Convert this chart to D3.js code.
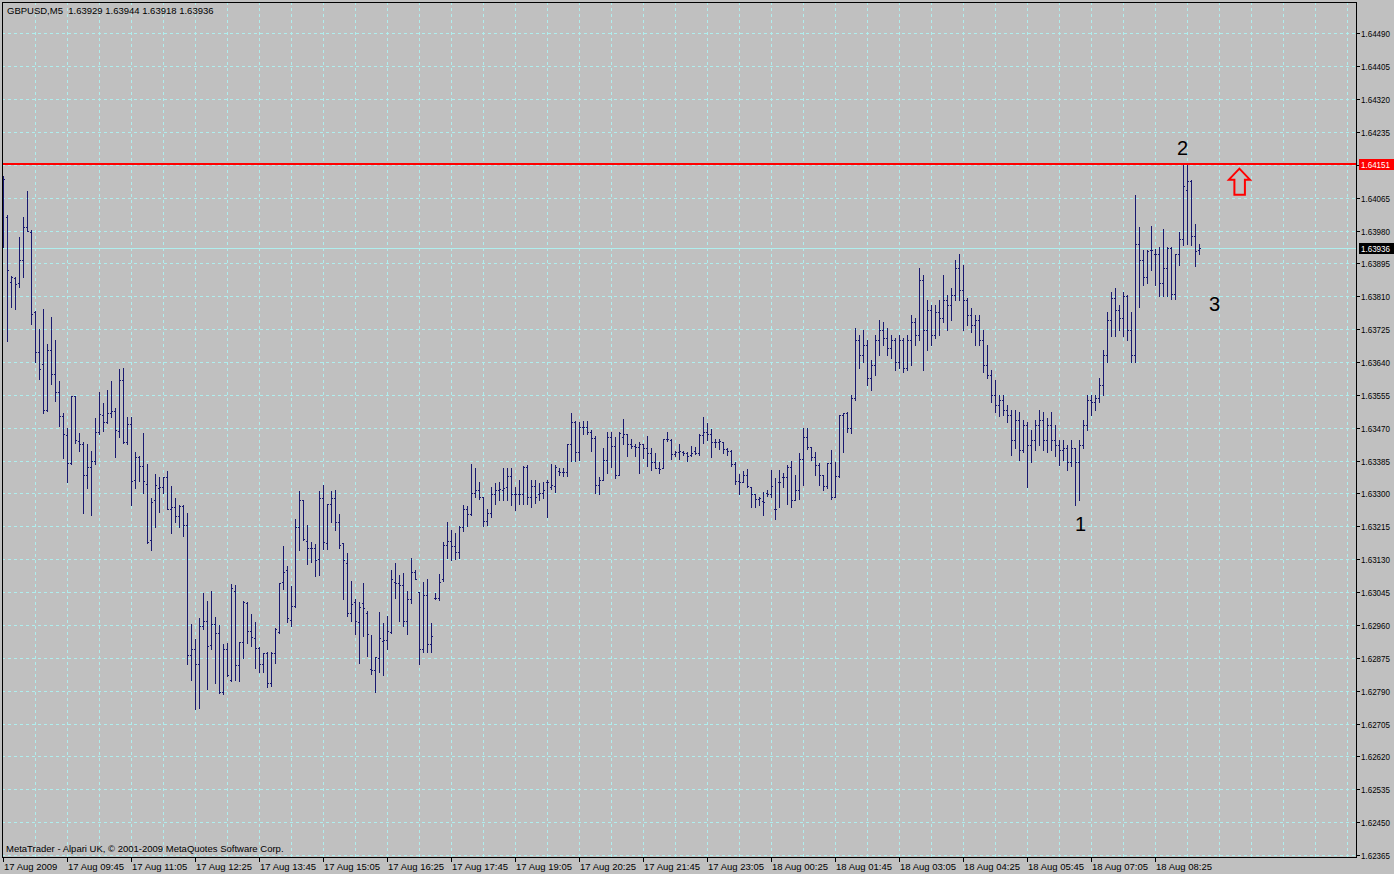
<!DOCTYPE html>
<html><head><meta charset="utf-8">
<script src="https://cdn.jsdelivr.net/npm/d3@7/dist/d3.min.js"></script>
<style>
html,body{margin:0;padding:0;background:#C0C0C0;overflow:hidden;}
svg{display:block;}
text{font-family:"Liberation Sans",Arial,sans-serif;white-space:pre;}
</style></head><body>
<svg id="chart" width="1394" height="874"></svg>
<script>
const symbol = "GBPUSD,M5";
const opens = [
1.64020,1.64014,1.63846,1.63856,1.63843,1.63905,1.63989,1.63976,1.63768,1.63666,
1.63634,1.63517,1.63671,1.63608,1.63563,1.63500,1.63451,1.63379,1.63552,1.63435,
1.63429,1.63349,1.63369,1.63384,1.63459,1.63503,1.63485,1.63509,1.63513,1.63462,
1.63593,1.63433,1.63479,1.63335,1.63393,1.63371,1.63324,1.63179,1.63283,1.63315,
1.63317,1.63342,1.63261,1.63264,1.63241,1.63268,1.63218,1.62882,1.62898,1.62858,
1.62957,1.62971,1.62908,1.62962,1.62938,1.62786,1.62898,1.62818,1.63048,1.62856,
1.62917,1.63016,1.62944,1.62925,1.62901,1.62858,1.62887,1.62811,1.62887,1.62941,
1.63072,1.63102,1.62973,1.63009,1.63214,1.63283,1.63178,1.63158,1.63158,1.63130,
1.63287,1.63172,1.63274,1.63289,1.63225,1.63172,1.63121,1.62992,1.63020,1.62968,
1.63017,1.62990,1.62845,1.62843,1.62875,1.62918,1.62921,1.62942,1.63070,1.63068,
1.63063,1.62970,1.63026,1.63098,1.63044,1.62898,1.63037,1.62911,1.63030,1.63030,
1.63080,1.63167,1.63177,1.63165,1.63149,1.63214,1.63259,1.63248,1.63300,1.63309,
1.63291,1.63229,1.63250,1.63298,1.63309,1.63310,1.63316,1.63345,1.63298,1.63298,
1.63298,1.63369,1.63291,1.63319,1.63298,1.63302,1.63330,1.63316,1.63319,1.63358,
1.63356,1.63356,1.63427,1.63485,1.63406,1.63472,1.63472,1.63458,1.63444,1.63323,
1.63336,1.63386,1.63446,1.63422,1.63348,1.63446,1.63453,1.63427,1.63423,1.63421,
1.63429,1.63418,1.63404,1.63382,1.63367,1.63365,1.63442,1.63438,1.63401,1.63408,
1.63406,1.63404,1.63399,1.63410,1.63404,1.63451,1.63458,1.63455,1.63432,1.63434,
1.63434,1.63416,1.63410,1.63375,1.63332,1.63330,1.63349,1.63317,1.63298,1.63285,
1.63280,1.63302,1.63298,1.63261,1.63330,1.63342,1.63343,1.63369,1.63283,1.63309,
1.63388,1.63446,1.63419,1.63393,1.63373,1.63348,1.63319,1.63378,1.63291,1.63345,
1.63503,1.63507,1.63469,1.63547,1.63696,1.63658,1.63684,1.63598,1.63632,1.63696,
1.63722,1.63702,1.63676,1.63696,1.63640,1.63696,1.63624,1.63696,1.63743,1.63709,
1.63852,1.63722,1.63774,1.63709,1.63769,1.63753,1.63800,1.63787,1.63813,1.63883,
1.63826,1.63800,1.63761,1.63735,1.63748,1.63696,1.63632,1.63606,1.63554,1.63528,
1.63541,1.63515,1.63503,1.63438,1.63490,1.63412,1.63477,1.63425,1.63438,1.63477,
1.63490,1.63438,1.63477,1.63438,1.63425,1.63412,1.63417,1.63381,1.63417,1.63381,
1.63425,1.63477,1.63541,1.63536,1.63547,1.63580,1.63658,1.63748,1.63805,1.63774,
1.63753,1.63810,1.63722,1.63658,1.63944,1.63903,1.63860,1.63929,1.63919,1.63918,
1.63843,1.63882,1.63936,1.63815,1.63918,1.63957,1.64084,1.64107,1.63966,1.63929];
const highs = [
1.64120,1.64020,1.63862,1.63860,1.63963,1.64015,1.64082,1.63981,1.63771,1.63725,
1.63777,1.63686,1.63756,1.63696,1.63590,1.63507,1.63468,1.63552,1.63552,1.63457,
1.63432,1.63427,1.63410,1.63495,1.63562,1.63534,1.63567,1.63590,1.63521,1.63621,
1.63624,1.63497,1.63497,1.63408,1.63397,1.63457,1.63375,1.63289,1.63350,1.63342,
1.63342,1.63358,1.63319,1.63289,1.63270,1.63270,1.63250,1.62962,1.62924,1.62979,
1.63043,1.63022,1.63048,1.62981,1.62960,1.62910,1.62912,1.63066,1.63063,1.62917,
1.63023,1.63018,1.62988,1.62967,1.62902,1.62888,1.62891,1.62891,1.62951,1.63068,
1.63164,1.63112,1.63061,1.63233,1.63306,1.63283,1.63218,1.63174,1.63169,1.63306,
1.63322,1.63274,1.63306,1.63309,1.63248,1.63172,1.63147,1.63073,1.63026,1.63020,
1.63068,1.62996,1.62934,1.62878,1.62993,1.62964,1.62984,1.63102,1.63119,1.63089,
1.63093,1.63048,1.63132,1.63102,1.63044,1.63070,1.63080,1.62964,1.63043,1.63091,
1.63175,1.63227,1.63205,1.63197,1.63216,1.63270,1.63267,1.63375,1.63367,1.63330,
1.63291,1.63259,1.63316,1.63326,1.63330,1.63365,1.63367,1.63365,1.63316,1.63336,
1.63371,1.63373,1.63335,1.63336,1.63326,1.63330,1.63335,1.63375,1.63373,1.63365,
1.63365,1.63429,1.63507,1.63487,1.63485,1.63487,1.63487,1.63464,1.63448,1.63343,
1.63418,1.63458,1.63458,1.63446,1.63458,1.63492,1.63453,1.63440,1.63429,1.63434,
1.63429,1.63448,1.63417,1.63405,1.63382,1.63441,1.63458,1.63441,1.63410,1.63427,
1.63410,1.63406,1.63423,1.63419,1.63453,1.63498,1.63481,1.63466,1.63440,1.63440,
1.63434,1.63418,1.63412,1.63382,1.63350,1.63358,1.63362,1.63317,1.63298,1.63291,
1.63304,1.63309,1.63360,1.63339,1.63360,1.63352,1.63373,1.63384,1.63348,1.63405,
1.63468,1.63468,1.63419,1.63406,1.63379,1.63348,1.63379,1.63412,1.63382,1.63504,
1.63509,1.63511,1.63554,1.63727,1.63709,1.63722,1.63696,1.63645,1.63709,1.63748,
1.63743,1.63727,1.63709,1.63702,1.63709,1.63702,1.63709,1.63761,1.63753,1.63883,
1.63864,1.63800,1.63787,1.63787,1.63800,1.63864,1.63813,1.63831,1.63903,1.63919,
1.63890,1.63805,1.63779,1.63761,1.63761,1.63722,1.63684,1.63619,1.63593,1.63554,
1.63554,1.63528,1.63515,1.63515,1.63510,1.63490,1.63484,1.63464,1.63490,1.63515,
1.63510,1.63495,1.63510,1.63477,1.63438,1.63438,1.63425,1.63438,1.63417,1.63438,
1.63490,1.63554,1.63554,1.63554,1.63598,1.63671,1.63769,1.63821,1.63831,1.63787,
1.63821,1.63813,1.63769,1.64071,1.63989,1.63929,1.63929,1.63991,1.63933,1.63938,
1.63983,1.63938,1.63938,1.63918,1.63976,1.64149,1.64151,1.64110,1.63996,1.63944];
const lows = [
1.63938,1.63695,1.63783,1.63777,1.63833,1.63859,1.63979,1.63738,1.63640,1.63595,
1.63507,1.63514,1.63583,1.63540,1.63475,1.63392,1.63330,1.63376,1.63431,1.63410,
1.63250,1.63313,1.63245,1.63375,1.63453,1.63462,1.63481,1.63497,1.63395,1.63446,
1.63431,1.63429,1.63271,1.63313,1.63333,1.63300,1.63171,1.63155,1.63214,1.63253,
1.63300,1.63260,1.63198,1.63227,1.63214,1.63191,1.62858,1.62818,1.62743,1.62746,
1.62949,1.62794,1.62898,1.62809,1.62783,1.62781,1.62829,1.62816,1.62818,1.62815,
1.62875,1.62914,1.62906,1.62849,1.62839,1.62837,1.62800,1.62802,1.62861,1.62938,
1.63053,1.62968,1.62957,1.63007,1.63155,1.63179,1.63117,1.63122,1.63087,1.63089,
1.63156,1.63156,1.63225,1.63205,1.63158,1.63027,1.62984,1.62971,1.62936,1.62861,
1.62932,1.62880,1.62832,1.62787,1.62839,1.62830,1.62899,1.62940,1.63029,1.62971,
1.62957,1.62936,1.63016,1.63080,1.62858,1.62891,1.62891,1.62891,1.63028,1.63024,
1.63073,1.63132,1.63128,1.63130,1.63134,1.63203,1.63216,1.63245,1.63291,1.63285,
1.63216,1.63218,1.63240,1.63274,1.63283,1.63283,1.63283,1.63270,1.63257,1.63274,
1.63274,1.63274,1.63266,1.63276,1.63283,1.63287,1.63238,1.63311,1.63304,1.63348,
1.63345,1.63345,1.63384,1.63384,1.63386,1.63455,1.63455,1.63410,1.63300,1.63298,
1.63335,1.63352,1.63369,1.63339,1.63348,1.63429,1.63397,1.63418,1.63397,1.63353,
1.63391,1.63371,1.63361,1.63365,1.63352,1.63365,1.63436,1.63388,1.63397,1.63388,
1.63399,1.63384,1.63397,1.63401,1.63399,1.63431,1.63438,1.63395,1.63421,1.63416,
1.63404,1.63399,1.63371,1.63324,1.63298,1.63330,1.63316,1.63266,1.63266,1.63270,
1.63244,1.63293,1.63291,1.63235,1.63266,1.63316,1.63274,1.63266,1.63283,1.63285,
1.63323,1.63414,1.63386,1.63348,1.63321,1.63309,1.63313,1.63286,1.63291,1.63343,
1.63408,1.63459,1.63456,1.63541,1.63624,1.63640,1.63580,1.63567,1.63606,1.63658,
1.63684,1.63658,1.63650,1.63619,1.63624,1.63614,1.63619,1.63632,1.63684,1.63696,
1.63619,1.63671,1.63684,1.63702,1.63709,1.63743,1.63722,1.63748,1.63800,1.63800,
1.63722,1.63735,1.63717,1.63684,1.63684,1.63614,1.63598,1.63536,1.63510,1.63500,
1.63503,1.63484,1.63399,1.63417,1.63386,1.63407,1.63316,1.63381,1.63412,1.63425,
1.63412,1.63407,1.63412,1.63397,1.63373,1.63386,1.63360,1.63371,1.63270,1.63283,
1.63417,1.63464,1.63503,1.63515,1.63536,1.63554,1.63640,1.63707,1.63707,1.63722,
1.63707,1.63696,1.63640,1.63640,1.63781,1.63839,1.63843,1.63877,1.63840,1.63811,
1.63811,1.63811,1.63802,1.63804,1.63890,1.63942,1.63944,1.63942,1.63888,1.63918];
const closes = [
1.64114,1.63879,1.63859,1.63841,1.63905,1.63989,1.63979,1.63763,1.63666,1.63621,
1.63517,1.63672,1.63608,1.63563,1.63500,1.63455,1.63379,1.63552,1.63438,1.63429,
1.63349,1.63369,1.63384,1.63459,1.63505,1.63485,1.63509,1.63513,1.63464,1.63593,
1.63433,1.63479,1.63332,1.63393,1.63371,1.63332,1.63175,1.63277,1.63323,1.63317,
1.63342,1.63261,1.63264,1.63241,1.63268,1.63218,1.62882,1.62898,1.62858,1.62957,
1.62971,1.62906,1.62962,1.62938,1.62786,1.62898,1.62830,1.63055,1.62856,1.62917,
1.63018,1.62944,1.62929,1.62901,1.62858,1.62887,1.62809,1.62887,1.62949,1.63068,
1.63096,1.62977,1.63009,1.63214,1.63283,1.63181,1.63160,1.63158,1.63128,1.63287,
1.63175,1.63274,1.63289,1.63225,1.63167,1.63128,1.62992,1.63013,1.62971,1.63007,
1.63004,1.62936,1.62843,1.62876,1.62925,1.62921,1.62944,1.63079,1.63068,1.63063,
1.62970,1.63026,1.63098,1.63080,1.62898,1.63037,1.62911,1.62931,1.63030,1.63072,
1.63167,1.63177,1.63165,1.63149,1.63214,1.63259,1.63246,1.63300,1.63309,1.63291,
1.63229,1.63250,1.63298,1.63309,1.63311,1.63313,1.63345,1.63298,1.63298,1.63298,
1.63369,1.63291,1.63319,1.63291,1.63302,1.63309,1.63330,1.63321,1.63369,1.63356,
1.63356,1.63427,1.63485,1.63406,1.63472,1.63472,1.63459,1.63444,1.63323,1.63336,
1.63386,1.63446,1.63422,1.63348,1.63457,1.63453,1.63427,1.63423,1.63421,1.63429,
1.63418,1.63404,1.63382,1.63367,1.63363,1.63440,1.63441,1.63401,1.63408,1.63410,
1.63404,1.63397,1.63405,1.63405,1.63451,1.63458,1.63455,1.63432,1.63434,1.63435,
1.63416,1.63410,1.63375,1.63332,1.63330,1.63349,1.63319,1.63298,1.63285,1.63287,
1.63279,1.63298,1.63319,1.63259,1.63330,1.63342,1.63369,1.63283,1.63309,1.63388,
1.63446,1.63419,1.63393,1.63373,1.63348,1.63319,1.63378,1.63291,1.63345,1.63503,
1.63507,1.63468,1.63547,1.63696,1.63658,1.63684,1.63598,1.63632,1.63696,1.63722,
1.63702,1.63676,1.63696,1.63640,1.63696,1.63624,1.63696,1.63743,1.63709,1.63852,
1.63722,1.63774,1.63709,1.63769,1.63753,1.63800,1.63787,1.63813,1.63883,1.63826,
1.63800,1.63761,1.63735,1.63748,1.63696,1.63632,1.63606,1.63554,1.63528,1.63541,
1.63515,1.63503,1.63438,1.63490,1.63412,1.63477,1.63425,1.63438,1.63477,1.63490,
1.63438,1.63477,1.63438,1.63425,1.63412,1.63417,1.63381,1.63417,1.63381,1.63425,
1.63477,1.63541,1.63536,1.63547,1.63580,1.63658,1.63748,1.63805,1.63774,1.63753,
1.63810,1.63722,1.63658,1.63945,1.63903,1.63860,1.63927,1.63929,1.63918,1.63843,
1.63882,1.63936,1.63815,1.63918,1.63957,1.64094,1.64107,1.63966,1.63926,1.63936];
const timeLabels = ["17 Aug 2009","17 Aug 09:45","17 Aug 11:05","17 Aug 12:25","17 Aug 13:45",
"17 Aug 15:05","17 Aug 16:25","17 Aug 17:45","17 Aug 19:05","17 Aug 20:25","17 Aug 21:45",
"17 Aug 23:05","18 Aug 00:25","18 Aug 01:45","18 Aug 03:05","18 Aug 04:25","18 Aug 05:45",
"18 Aug 07:05","18 Aug 08:25"];
const priceTicks = [1.64490,1.64405,1.64320,1.64235,1.64150,1.64065,1.63980,1.63895,1.63810,
1.63725,1.63640,1.63555,1.63470,1.63385,1.63300,1.63215,1.63130,1.63045,1.62960,1.62875,
1.62790,1.62705,1.62620,1.62535,1.62450,1.62365];
const levelPrice = 1.64151;
const bidPrice = 1.63936;
const annotations = [
  {text:"1", bar:268, price:1.63203},
  {text:"2", bar:293.5, price:1.64175},
  {text:"3", bar:301.5, price:1.63771}
];
const arrowMark = {bar:309.1, price:1.64140};
const copyright = "MetaTrader - Alpari UK, \u00A9 2001-2009 MetaQuotes Software Corp.";

// ---------- layout ----------
const W = 1394, H = 874;
const plot = {left:2, top:2, right:1356, bottom:857};
const svg = d3.select("#chart");
const fontFamily = '"Liberation Sans", Arial, sans-serif';
const gridColor = "#AFEEEE";
const barColor = "#191970";
const axisFont = 9.3;

const n = opens.length;
const x = d3.scaleLinear().domain([0, n - 1]).range([3, 3 + 4 * (n - 1)]);
const y = d3.scaleLinear().domain([1.62365, 1.64490]).range([855, 33.3]);

svg.append("rect").attr("x",0).attr("y",0).attr("width",W).attr("height",H).attr("fill","#C0C0C0");

svg.append("defs").append("clipPath").attr("id","plotclip")
  .append("rect").attr("x",plot.left+1).attr("y",plot.top+1)
  .attr("width",plot.right-plot.left-1).attr("height",plot.bottom-plot.top-1);

const g = svg.append("g").attr("clip-path","url(#plotclip)");

// vertical grid (every 8 bars, continuing into empty right area)
const vIdx = d3.range(8, 345, 8).filter(i => x(i) < plot.right - 2);
g.append("g").selectAll("line").data(vIdx).join("line")
  .attr("x1", d => Math.round(x(d)) + 0.5).attr("x2", d => Math.round(x(d)) + 0.5)
  .attr("y1", plot.top).attr("y2", plot.bottom)
  .attr("stroke", gridColor).attr("stroke-width",1).attr("stroke-dasharray","3,3")
  .attr("shape-rendering","crispEdges");

// horizontal grid
g.append("g").selectAll("line").data(priceTicks).join("line")
  .attr("x1", plot.left).attr("x2", plot.right)
  .attr("y1", d => Math.round(y(d)) + 0.5).attr("y2", d => Math.round(y(d)) + 0.5)
  .attr("stroke", gridColor).attr("stroke-width",1).attr("stroke-dasharray","3,3")
  .attr("shape-rendering","crispEdges");

// bid line
g.append("line").attr("x1",plot.left).attr("x2",plot.right)
  .attr("y1", Math.round(y(bidPrice))+0.5).attr("y2", Math.round(y(bidPrice))+0.5)
  .attr("stroke", gridColor).attr("stroke-width",1).attr("shape-rendering","crispEdges");

// OHLC bars
const bars = d3.range(n).map(i => ({i, o:opens[i], h:highs[i], l:lows[i], c:closes[i]}));
const bg = g.append("g").attr("fill", barColor).attr("shape-rendering","crispEdges");
bg.selectAll("rect.hl").data(bars).join("rect").attr("class","hl")
  .attr("x", d => Math.round(x(d.i)))
  .attr("y", d => Math.round(y(d.h)))
  .attr("width", 1)
  .attr("height", d => Math.max(1, Math.round(y(d.l)) - Math.round(y(d.h)) + 1));
bg.selectAll("rect.op").data(bars).join("rect").attr("class","op")
  .attr("x", d => Math.round(x(d.i)) - 1).attr("y", d => Math.round(y(d.o)))
  .attr("width", 1).attr("height", 1);
bg.selectAll("rect.cl").data(bars).join("rect").attr("class","cl")
  .attr("x", d => Math.round(x(d.i)) + 1).attr("y", d => Math.round(y(d.c)))
  .attr("width", 1).attr("height", 1);

// red level line
g.append("line").attr("x1",plot.left).attr("x2",plot.right)
  .attr("y1", Math.round(y(levelPrice))).attr("y2", Math.round(y(levelPrice)))
  .attr("stroke","#FF0000").attr("stroke-width",2).attr("shape-rendering","crispEdges");

// annotations
g.append("g").selectAll("text").data(annotations).join("text")
  .attr("x", d => x(d.bar)).attr("y", d => y(d.price))
  .attr("font-size", 20).attr("fill","#000").attr("font-family", fontFamily)
  .text(d => d.text);

// arrow (outlined up arrow)
const ax = x(arrowMark.bar), ay = y(arrowMark.price);
const arrowPts = [[0,0],[10.5,11],[5.5,11],[5.5,26],[-5,26],[-5,11],[-10.5,11]];
g.append("path")
  .attr("d", "M" + arrowPts.map(p => [ax+p[0], ay+p[1]].join(",")).join("L") + "Z")
  .attr("fill","none").attr("stroke","#FF0000").attr("stroke-width",2);

// frame
svg.append("rect").attr("x",plot.left+0.5).attr("y",plot.top+0.5)
  .attr("width",plot.right-plot.left).attr("height",plot.bottom-plot.top)
  .attr("fill","none").attr("stroke","#000").attr("stroke-width",1)
  .attr("shape-rendering","crispEdges");

// right price axis
const ya = svg.append("g");
ya.selectAll("line").data(priceTicks).join("line")
  .attr("x1", plot.right+1).attr("x2", plot.right+4)
  .attr("y1", d => Math.round(y(d))+0.5).attr("y2", d => Math.round(y(d))+0.5)
  .attr("stroke","#000").attr("shape-rendering","crispEdges");
ya.selectAll("text").data(priceTicks).join("text")
  .attr("x", plot.right+5).attr("y", d => Math.round(y(d)) + 4)
  .attr("font-size", axisFont).attr("font-family", fontFamily).attr("fill","#000")
  .attr("textLength", 29).attr("lengthAdjust","spacingAndGlyphs")
  .text(d => d.toFixed(5));

function priceBox(price, fill) {
  const yy = Math.round(y(price));
  svg.append("rect").attr("x", plot.right+3).attr("y", yy-5).attr("width", W-plot.right-3).attr("height", 11)
    .attr("fill", fill).attr("shape-rendering","crispEdges");
  svg.append("text").attr("x", plot.right+5).attr("y", yy+4)
    .attr("font-size", axisFont).attr("font-family", fontFamily).attr("fill","#FFFFFF")
    .attr("textLength", 29).attr("lengthAdjust","spacingAndGlyphs")
    .text(price.toFixed(5));
}
priceBox(levelPrice, "#FF0000");
priceBox(bidPrice, "#000000");

// bottom time axis
const tIdx = timeLabels.map((t, k) => ({t, i: k * 16}));
const xa = svg.append("g");
xa.selectAll("line").data(tIdx).join("line")
  .attr("x1", d => Math.round(x(d.i))+0.5).attr("x2", d => Math.round(x(d.i))+0.5)
  .attr("y1", plot.bottom).attr("y2", plot.bottom+5)
  .attr("stroke","#000").attr("shape-rendering","crispEdges");
xa.selectAll("text").data(tIdx).join("text")
  .attr("x", d => Math.round(x(d.i)) + 1).attr("y", plot.bottom + 13)
  .attr("font-size", 9.5).attr("font-family", fontFamily).attr("fill","#000")
  .text(d => d.t);

// title
const last = n - 1;
svg.append("text").attr("x", 7).attr("y", 14)
  .attr("font-size", 9.5).attr("font-family", fontFamily).attr("fill","#000")
  .text(symbol + "  " + [opens[last], highs[last], lows[last], closes[last]].map(v => v.toFixed(5)).join(" "));

// copyright
svg.append("text").attr("x", 6).attr("y", 852)
  .attr("font-size", 9.5).attr("font-family", fontFamily).attr("fill","#000")
  .text(copyright);
</script>
</body></html>
